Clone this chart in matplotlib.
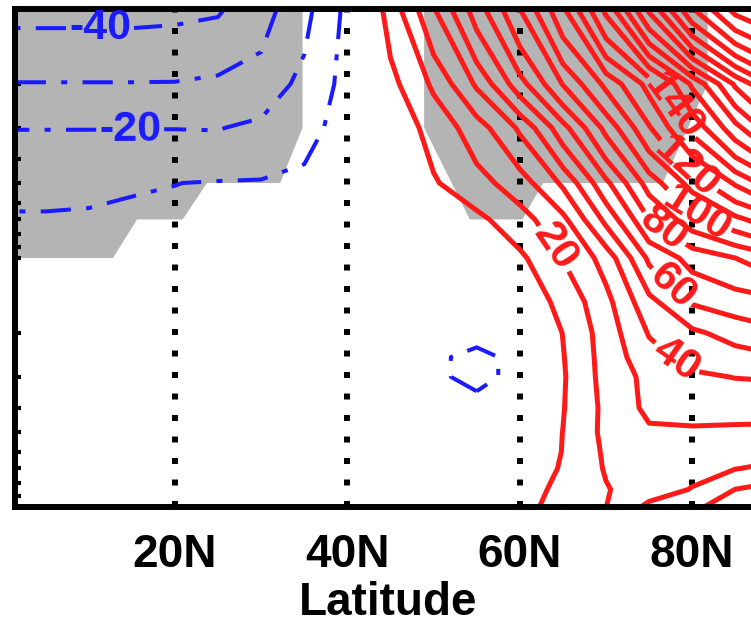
import numpy as np
import matplotlib.pyplot as plt
from matplotlib.ticker import NullFormatter

plt.rcParams['font.family'] = ['Liberation Sans', 'DejaVu Sans']

# ===== grid: latitude (deg N) x pressure (hPa) =====
lat = [0, 5, 10, 15, 20, 25, 30, 35, 40, 45, 50, 55, 60, 65, 70, 75, 80, 85, 90]
lev = [1000, 850, 700, 600, 500, 400, 300, 250, 200, 150, 100, 70, 50, 30, 20, 10]

# anomaly field, one row per level (same order as lev)
z1000 = [0, 0, 0, 0, 0, 0, 0, 0, 0, 0, 0, 0, 7, 13.6, 19.9, 32.5, 38.5, 44, 50]
z850 = [-0.5, -0.5, -0.5, -0.5, -0.5, -0.5, -0.5, -0.5, -0.5, -0.5, -0.5, -0.5, 6.5, 12, 19.4, 25, 30.5, 40.1, 45]
z700 = [-1, -1, -1, -1, -1, -1, -1, -1, -1, -1, -1, -1, 3, 11, 20.8, 24.5, 27, 29.7, 32]
z600 = [-1.5, -1.5, -1.5, -1.5, -1.5, -1.5, -1.5, -1.5, -1.5, -1.5, -1.5, -1.5, 2, 10.3, 21.5, 25.5, 26, 27, 27.5]
z500 = [-2, -2, -2, -2, -2, -2, -2, -2, -2, -2, -2, -2, 1, 10.1, 22.5, 28.5, 28.5, 28.5, 28.5]
z400 = [-2.5, -2.5, -2.5, -2.5, -2.5, -2.5, -2.5, -2.5, -2.5, -3, -4.5, -6, -2, 9.5, 22.4, 32.3, 34, 33, 32.5]
z300 = [-3, -3, -3, -3, -3, -3, -3, -3, -3, -3.5, -8, -13, -7, 9, 23.6, 32.8, 38.5, 40.3, 41]
z250 = [-3.5, -3.5, -3.5, -3.5, -3.5, -3.5, -3.5, -3.5, -3.5, -3.5, -8, -13, -7, 9.5, 24, 36.4, 43, 46, 49]
z200 = [-4, -4, -4, -4, -4, -4, -3.5, -3, -2.5, -2, -4.5, -6, -1, 10.2, 24.6, 40.7, 48, 54, 58]
z150 = [-5, -5, -5, -5, -5, -4.5, -4, -3, -2, -1, -2.5, -4, 3, 12.9, 27, 47, 61, 65, 68]
z100 = [-7, -7, -7, -6.5, -6, -5.5, -5, -4, -2, 0, 2, 5, 8, 19.9, 33.8, 62, 73.5, 80, 88]
z70 = [-9, -9, -8.5, -8, -8.5, -8, -7, -6, -4, -1, 3, 7.5, 16, 27.4, 52.7, 79.5, 96, 107.4, 118]
z50 = [-13, -13, -12.8, -11, -10.1, -9.5, -9.3, -8, -4, 3, 9, 16.4, 25, 41.7, 67.6, 94.4, 114, 131.3, 148]
z30 = [-20.2, -20.2, -20.2, -20.2, -20.2, -20.4, -18, -13, -6.4, 3.3, 13.4, 25.2, 41.6, 66.4, 93, 119, 143, 166.5, 190]
z20 = [-29.6, -29.6, -29.6, -29.6, -29.5, -28, -25.8, -17.3, -6.8, 7, 21.7, 41.5, 66, 90.5, 112.5, 133.5, 161.6, 191.6, 215]
z10 = [-42.5, -42.5, -42.5, -42.5, -42, -41, -34, -23, -7.6, 14, 39.2, 65.1, 89.9, 118.4, 152.5, 192, 229.3, 253.5, 262]

field = np.array([z1000, z850, z700, z600, z500, z400, z300, z250,
                  z200, z150, z100, z70, z50, z30, z20, z10])

# significant areas (shaded)
sig_west_lat = [0, 34.8, 34.8, 32.2, 23.7, 20.9, 15.6, 12.8, 0]
sig_west_lev = [10, 10, 30, 50, 50, 70, 70, 100, 100]
sig_east_lat = [48.9, 48.9, 54.2, 60.3, 62.7, 76.6, 81.8, 81.8]
sig_east_lev = [10, 30, 70, 70, 50, 50, 20, 10]

pos_levels = list(range(10, 300, 10))
neg_levels = [-50, -40, -30, -20, -10]

# labelled contours and where to put them (lat, hPa)
neg_labels = {-40: (11.3, 11.8), -20: (14.8, 30.5)}
pos_labels = {20: (64.3, 89), 40: (77.8, 265), 60: (77.2, 135), 80: (76.6, 77),
              100: (80.9, 62), 120: (80.1, 41), 140: (78.6, 23.5)}

# ===== style =====
FONT_SIZE = 33
LABEL_SIZE = 31
RED = '#ff1a1a'
BLUE = '#1a1aff'
GRAY = '#b4b4b4'
NEG_DASH = (0, (7.5, 3.8, 1.5, 3.8))

fig = plt.figure(figsize=(7.51, 6.26), dpi=100)
ax = fig.add_axes([15 / 751, 119 / 626, 763.4 / 751, 498 / 626])

ax.set_yscale('log')
ax.set_xlim(1.44, 90)
ax.set_ylim(1000, 10)

ax.fill(sig_west_lat, sig_west_lev, color=GRAY, lw=0, zorder=1)
ax.fill(sig_east_lat, sig_east_lev, color=GRAY, lw=0, zorder=1)

for x in [20, 40, 60, 80]:
    ax.axvline(x, color='black', lw=4.3, ls=(0, (1, 2.6)),
               dash_capstyle='butt', zorder=1.5)


def draw_levels(levels, labels, color, lw, dash=None):
    """plain levels in one set, each labelled level in its own set"""
    plain = [v for v in levels if v not in labels]
    sets = [ax.contour(lat, lev, field, levels=plain, colors=color,
                       linewidths=lw, zorder=2)]
    for val, pos in labels.items():
        cs = ax.contour(lat, lev, field, levels=[val], colors=color,
                        linewidths=lw, zorder=2)
        txt = ax.clabel(cs, manual=[pos], fmt='%d', fontsize=LABEL_SIZE,
                        inline=True, inline_spacing=3)
        for t in txt:
            t.set_fontweight('bold')
        sets.append(cs)
    if dash is not None:
        for cs in sets:
            cs.set_linestyle([dash])


draw_levels(pos_levels, pos_labels, RED, 3.6)
draw_levels(neg_levels, neg_labels, BLUE, 2.9, NEG_DASH)

# axes
ax.set_xticks([20, 40, 60, 80])
ax.set_xticklabels(['20N', '40N', '60N', '80N'], fontsize=FONT_SIZE, fontweight='bold')
ax.set_xlabel('Latitude', fontsize=FONT_SIZE, fontweight='bold')
ax.xaxis.set_label_coords(0.489, -0.149)
ax.tick_params(axis='x', which='both', direction='in', length=4, width=1.5,
               pad=19, top=False)
ax.tick_params(axis='y', which='both', direction='in', length=4, width=3,
               left=True, right=False)
ax.yaxis.set_major_formatter(NullFormatter())
ax.yaxis.set_minor_formatter(NullFormatter())

for side in ['left', 'bottom', 'top']:
    ax.spines[side].set_linewidth(4.3)
ax.spines['right'].set_visible(False)

fig.savefig('out.png', dpi=100)
